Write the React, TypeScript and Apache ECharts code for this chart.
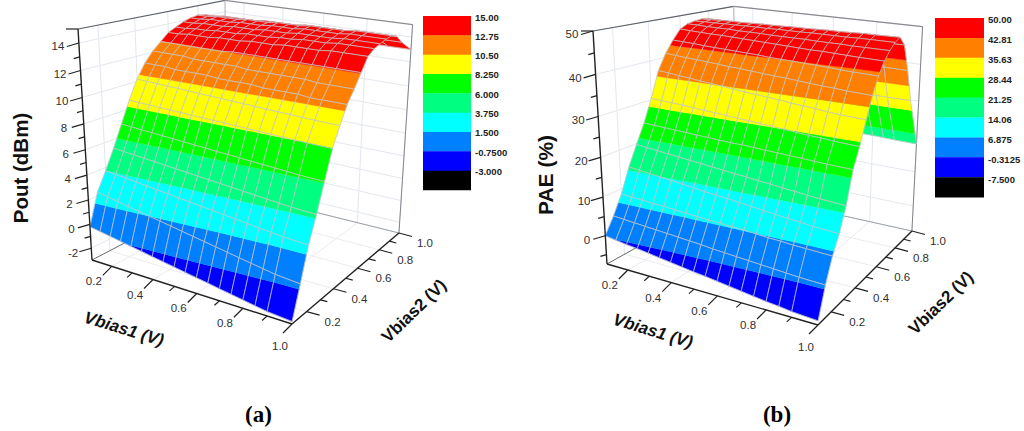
import React, { useEffect, useRef } from "react";
import * as echarts from "echarts";

const gridBias1 = [0.1,0.15,0.2,0.25,0.3,0.35,0.4,0.45,0.5,0.55,0.6,0.65,0.7,0.75,0.8,0.85,0.9,1.0];
const gridBias2 = [0.1,0.15,0.2,0.25,0.3,0.35,0.4,0.45,0.5,0.55,0.6,0.65,0.7,0.75,0.8,0.85,0.9,1.0];
const majorBias = [0.2,0.4,0.6,0.8,1.0];
const minorBias = [0.3,0.5,0.7,0.9];

const poutMajor = [-2,0,2,4,6,8,10,12,14];
const poutMinor = [-1,1,3,5,7,9,11,13];
const paeMajor = [0,10,20,30,40,50];
const paeMinor = [-5,5,15,25,35,45];

const bandColors = ["#000000","#0000ff","#0080ff","#00ffff","#00ff80","#00ff00","#ffff00","#ff8000","#ff0000"];
const poutLevels = [-3,-0.75,1.5,3.75,6,8.25,10.5,12.75,15];
const paeLevels = [-7.5,-0.3125,6.875,14.06,21.25,28.44,35.63,42.81,50];
const poutLegend = ["15.00","12.75","10.50","8.250","6.000","3.750","1.500","-0.7500","-3.000"];
const paeLegend = ["50.00","42.81","35.63","28.44","21.25","14.06","6.875","-0.3125","-7.500"];

const poutRows = [
[-0.2,-0.35,-0.5,-0.66,-0.81,-0.96,-1.12,-1.27,-1.42,-1.58,-1.73,-1.88,-2.04,-2.19,-2.34,-2.5,-2.65,-2.8],
[2.3,2.14,1.98,1.82,1.66,1.5,1.35,1.19,1.03,0.87,0.71,0.55,0.39,0.23,0.07,-0.08,-0.24,-0.4],
[3.75,3.65,3.56,3.46,3.36,3.27,3.17,3.07,2.97,2.88,2.78,2.68,2.59,2.49,2.39,2.3,2.2,2.1],
[5.3,5.22,5.15,5.07,5.0,4.92,4.84,4.77,4.69,4.61,4.54,4.46,4.38,4.31,4.23,4.15,4.08,4.0],
[7,6.95,6.89,6.84,6.79,6.74,6.68,6.63,6.58,6.52,6.47,6.42,6.36,6.31,6.26,6.21,6.15,6.1],
[8.7,8.67,8.64,8.61,8.58,8.55,8.52,8.49,8.46,8.44,8.41,8.38,8.35,8.32,8.29,8.26,8.23,8.2],
[10.2,10.16,10.13,10.09,10.06,10.02,9.99,9.95,9.92,9.88,9.85,9.81,9.78,9.74,9.71,9.67,9.64,9.6],
[11.3,11.3,11.3,11.2,11.2,11.2,11.2,11.1,11.1,11.1,11.1,11.0,11.0,11.0,11.0,10.9,10.9,10.9],
[12.1,12.1,12.1,12.1,12.0,12.0,12.0,12.0,12.0,11.9,11.9,11.9,11.9,11.9,11.9,11.8,11.8,11.8],
[12.7,12.7,12.7,12.7,12.7,12.7,12.7,12.8,12.8,12.8,12.8,12.8,12.8,12.8,12.8,12.8,12.8,12.8],
[13.3,13.3,13.4,13.4,13.4,13.5,13.5,13.5,13.6,13.6,13.6,13.7,13.7,13.7,13.7,13.8,13.8,13.8],
[13.6,13.6,13.7,13.7,13.8,13.8,13.8,13.9,13.9,13.9,14.0,14.0,14.1,14.1,14.1,14.2,14.2,14.2],
[13.9,13.9,14.0,14.0,14.0,14.1,14.1,14.1,14.2,14.2,14.2,14.3,14.3,14.3,14.3,14.4,14.4,14.4],
[14.1,14.1,14.2,14.2,14.2,14.3,14.3,14.3,14.4,14.4,14.4,14.5,14.5,14.5,14.5,14.6,14.6,14.6],
[14.2,14.2,14.3,14.3,14.3,14.4,14.4,14.4,14.5,14.5,14.5,14.6,14.6,14.6,14.6,14.7,14.7,14.7],
[14.1,14.1,14.2,14.2,14.2,14.2,14.3,14.3,14.3,14.3,14.4,14.4,14.4,14.4,14.4,14.5,14.5,14.5],
[13.7,13.7,13.7,13.7,13.8,13.8,13.8,13.8,13.8,13.8,13.8,13.9,13.9,13.9,13.9,13.9,13.9,13.9],
[12.9,12.9,12.9,12.9,12.9,12.9,12.9,12.9,12.9,13.0,13.0,13.0,13.0,13.0,13.0,13.0,13.0,13.0],
];

const paeRows = [
[0,-0.4,-0.8,-1.1,-1.5,-1.9,-2.3,-2.7,-3.1,-3.4,-3.8,-4.2,-4.6,-5.0,-5.4,-5.7,-6.1,-6.5],
[4,3.8,3.6,3.4,3.2,3,2.8,2.6,2.4,2.1,1.9,1.7,1.5,1.3,1.1,0.9,0.7,0.5],
[8.7,8.5,8.4,8.2,8.1,7.9,7.7,7.6,7.4,7.3,7.1,7,6.8,6.6,6.5,6.3,6.2,6],
[14.8,14.5,14.2,14,13.7,13.4,13.1,12.8,12.5,12.3,12,11.7,11.4,11.1,10.8,10.6,10.3,10],
[19.8,19.5,19.3,19,18.8,18.5,18.3,18,17.8,17.5,17.3,17,16.8,16.5,16.3,16,15.8,15.5],
[24.6,24.5,24.4,24.3,24.2,24.1,24,23.9,23.8,23.8,23.7,23.6,23.5,23.4,23.3,23.2,23.1,23],
[30.4,30.2,30.1,30,29.8,29.6,29.5,29.3,29.1,29,28.8,28.6,28.4,28.2,28,27.9,27.7,27.5],
[37,36.8,36.5,36.3,36,35.8,35.5,35.3,35,34.8,34.6,34.4,34.1,33.9,33.7,33.4,33.2,33],
[41,40.8,40.6,40.5,40.3,40.1,39.9,39.8,39.6,39.4,39.2,39.1,38.9,38.7,38.5,38.4,38.2,38],
[44,43.9,43.8,43.6,43.5,43.4,43.3,43.2,43.1,42.9,42.8,42.7,42.6,42.5,42.4,42.2,42.1,42],
[46.5,46.4,46.3,46.2,46.2,46.1,46,45.9,45.8,45.7,45.6,45.5,45.4,45.4,45.3,45.2,45.1,45],
[47.5,47.5,47.4,47.4,47.4,47.3,47.3,47.3,47.2,47.2,47.2,47.2,47.1,47.1,47.1,47,47,47],
[47.9,48,48,48.1,48.1,48.2,48.2,48.2,48.3,48.3,48.3,48.4,48.4,48.4,48.4,48.5,48.5,48.5],
[48.1,48.2,48.3,48.4,48.4,48.5,48.6,48.6,48.7,48.8,48.8,48.9,49,49,49.1,49.2,49.2,49.3],
[47.8,47.8,47.7,47.7,47.6,47.6,47.5,47.5,47.4,47.4,47.3,47.3,47.2,47.2,47.1,47.1,47,47],
[41,40.9,40.9,40.8,40.8,40.7,40.6,40.6,40.5,40.5,40.4,40.4,40.3,40.2,40.2,40.1,40.1,40],
[31.8,31.8,31.7,31.7,31.7,31.7,31.7,31.6,31.6,31.6,31.6,31.6,31.5,31.5,31.5,31.5,31.5,31.5],
[19,18.9,18.9,18.8,18.8,18.7,18.7,18.6,18.6,18.5,18.5,18.4,18.4,18.3,18.3,18.2,18.1,18],
];

type Pt = [number, number];
const BIAS_MIN = 0.1, BIAS_MAX = 1.0;
const toUnit = (b: number) => (b - BIAS_MIN) / (BIAS_MAX - BIAS_MIN);

function makeProjector(O: Pt, Pu: Pt, Pv: Pt, Pw: Pt, a: number, b: number, c: number) {
  const A = [(1 + a) * Pu[0] - O[0], (1 + a) * Pu[1] - O[1]];
  const B = [(1 + b) * Pv[0] - O[0], (1 + b) * Pv[1] - O[1]];
  const C = [(1 + c) * Pw[0] - O[0], (1 + c) * Pw[1] - O[1]];
  return (u: number, v: number, w: number): Pt => {
    const h = 1 + a * u + b * v + c * w;
    return [
      (O[0] + u * A[0] + v * B[0] + w * C[0]) / h,
      (O[1] + u * A[1] + v * B[1] + w * C[1]) / h,
    ];
  };
}

const panels = [
  {
    rows: poutRows, levels: poutLevels, legend: poutLegend, major: poutMajor, minor: poutMinor,
    project: makeProjector([92, 260], [292, 324], [226, 190], [78, 29], -0.1214, 0.2315, -0.0872),
    legendBox: { x: 423, y: 16, w: 48, h: 19.33, labelX: 475, labelY: 17 }, legendStep: 19.3,
    zTitle: { text: "Pout (dBm)", x: 20, y: 168, size: 20.5 },
    t1: { x: 124, y: 329, rot: -17 }, t2: { x: 414, y: 311, rot: 44 },
    caption: { text: "(a)", x: 258.5, y: 414 },
  },
  {
    rows: paeRows, levels: paeLevels, legend: paeLegend, major: paeMajor, minor: paeMinor,
    project: makeProjector([607, 264], [818, 325], [736, 192], [593, 31], -0.1238, 0.2655, -0.0794),
    legendBox: { x: 935, y: 18, w: 49, h: 19.9, labelX: 988, labelY: 19 }, legendStep: 20,
    zTitle: { text: "PAE (%)", x: 545, y: 175, size: 21 },
    t1: { x: 653, y: 331, rot: -17 }, t2: { x: 941, y: 303, rot: 44 },
    caption: { text: "(b)", x: 777, y: 414 },
  },
];

type P3 = [number, number, number];
function clipBand(poly: P3[], lo: number, hi: number): P3[] {
  const clip = (pts: P3[], keep: (z: number) => boolean, lim: number) => {
    const out: P3[] = [];
    for (let i = 0; i < pts.length; i++) {
      const p = pts[i], q = pts[(i + 1) % pts.length];
      const kp = keep(p[2]), kq = keep(q[2]);
      if (kp) out.push(p);
      if (kp !== kq) {
        const t = (lim - p[2]) / (q[2] - p[2]);
        out.push([p[0] + t * (q[0] - p[0]), p[1] + t * (q[1] - p[1]), lim]);
      }
    }
    return out;
  };
  const a = clip(poly, (z) => z >= lo, lo);
  if (!a.length) return a;
  return clip(a, (z) => z <= hi, hi);
}

function buildOption() {
  const series: any[] = [];
  panels.forEach((p) => {
    const zMin = p.levels[0], zMax = p.levels[p.levels.length - 1];
    const toW = (z: number) => (z - zMin) / (zMax - zMin);

    // walls, floor and frame
    series.push({
      type: "custom", silent: true, data: [[0, 0]], z: 1,
      renderItem: (_: any, api: any) => {
        const P = (u: number, v: number, w: number) => api.coord(p.project(u, v, w));
        const seg = (a: number[], b: number[], stroke: string, lineWidth = 1) => ({
          type: "line",
          shape: { x1: a[0], y1: a[1], x2: b[0], y2: b[1] },
          style: { stroke, lineWidth },
        });
        const ch: any[] = [];
        const faint = "#e3e7ee";
        p.major.forEach((z: number) => {
          const w = toW(z);
          ch.push(seg(P(0, 0, w), P(0, 1, w), faint));
          ch.push(seg(P(0, 1, w), P(1, 1, w), faint));
        });
        majorBias.forEach((b) => {
          const t = toUnit(b);
          ch.push(seg(P(t, 1, 0), P(t, 1, 1), faint));
          ch.push(seg(P(0, t, 0), P(0, t, 1), faint));
          ch.push(seg(P(t, 0, 0), P(t, 1, 0), "#eee8ee"));
          ch.push(seg(P(0, t, 0), P(1, t, 0), "#e8ecf2"));
        });
        ch.push(seg(P(0, 0, 1), P(0, 1, 1), "#5a6068", 1.2));
        ch.push(seg(P(0, 1, 1), P(1, 1, 1), "#8a8a90", 1.2));
        ch.push(seg(P(1, 1, 1), P(1, 1, 0), "#80868c", 1));
        ch.push(seg(P(0, 1, 1), P(0, 1, 0), "#b4b8bc", 1));
        ch.push(seg(P(0, 1, 0), P(1, 1, 0), "#9aa0a4", 1));
        ch.push(seg(P(0, 0, 0), P(0, 1, 0), "#6a6a6a", 1));
        return { type: "group", children: ch };
      },
    });

    // surface cells, far rows first
    const cells: number[][] = [];
    for (let j = p.rows.length - 2; j >= 0; j--) {
      for (let i = 0; i < gridBias1.length - 1; i++) cells.push([i, j]);
    }
    const uOf = gridBias1.map(toUnit);
    const vOf = gridBias2.map(toUnit);
    series.push({
      type: "custom", silent: true, data: cells, z: 2,
      renderItem: (_: any, api: any) => {
        const i = api.value(0), j = api.value(1);
        const quad: P3[] = [
          [uOf[i], vOf[j], p.rows[j][i]],
          [uOf[i + 1], vOf[j], p.rows[j][i + 1]],
          [uOf[i + 1], vOf[j + 1], p.rows[j + 1][i + 1]],
          [uOf[i], vOf[j + 1], p.rows[j + 1][i]],
        ];
        const toPx = (q: P3) => api.coord(p.project(q[0], q[1], toW(q[2])));
        const ch: any[] = [];
        for (let b = 0; b + 1 < p.levels.length; b++) {
          const poly = clipBand(quad, p.levels[b], p.levels[b + 1]);
          if (poly.length >= 3) {
            ch.push({
              type: "polygon",
              shape: { points: poly.map(toPx) },
              style: { fill: bandColors[b + 1], stroke: bandColors[b + 1], lineWidth: 0.3 },
            });
          }
        }
        ch.push({
          type: "polygon",
          shape: { points: quad.map(toPx) },
          style: { fill: "none", stroke: "rgba(196,196,200,0.85)", lineWidth: 0.9 },
        });
        return { type: "group", children: ch };
      },
    });

    // axes, ticks, labels, legend
    series.push({
      type: "custom", silent: true, data: [[0, 0]], z: 3,
      renderItem: (_: any, api: any) => {
        const P = (u: number, v: number, w: number) => api.coord(p.project(u, v, w));
        const ch: any[] = [];
        const ax = "#222222";
        const seg = (a: number[], b: number[], lw = 1.4) => ({
          type: "line",
          shape: { x1: a[0], y1: a[1], x2: b[0], y2: b[1] },
          style: { stroke: ax, lineWidth: lw },
        });
        const txt = (text: string, x: number, y: number, font: any, extra: any = {}) => ({
          type: "text",
          x, y,
          ...extra,
          style: { text, x: 0, y: 0, align: "center", verticalAlign: "middle", fill: "#303030", fontFamily: "Liberation Sans", ...font },
        });
        ch.push(seg(P(0, 0, 0), P(0, 0, 1)));
        ch.push(seg(P(0, 0, 0), P(1, 0, 0)));
        ch.push(seg(P(1, 0, 0), P(1, 1, 0)));
        const tick = (a: number[], dx: number, dy: number) => seg(a, [a[0] + dx, a[1] + dy], 1.2);
        p.major.forEach((z: number) => {
          const w = toW(z);
          const a = P(0, 0, w);
          ch.push(tick(a, -12, 3.5));
          ch.push(txt(String(z), a[0] - 21 + (1 - w) * 3, a[1] + 3 + (1 - w) * 2, { fontSize: 11.5 }));
        });
        ch.push(tick(P(0, 0, 1), -12, 0));
        p.minor.forEach((z: number) => ch.push(tick(P(0, 0, toW(z)), -6, 1.8)));
        majorBias.forEach((b) => {
          const t = toUnit(b);
          const a = P(t, 0, 0);
          ch.push(tick(a, -9, 9));
          ch.push(txt(b.toFixed(1), a[0] - (b === 1 ? 12 : 18), a[1] + (b === 1 ? 22 : 15), { fontSize: 11.5 }));
          const c = P(1, t, 0);
          ch.push(tick(c, 13, 3.5));
          ch.push(txt(b.toFixed(1), c[0] + 26, c[1] + 10, { fontSize: 11.5 }));
        });
        minorBias.forEach((b) => {
          const t = toUnit(b);
          ch.push(tick(P(t, 0, 0), -5, 4.5));
          ch.push(tick(P(1, t, 0), 7, 1.8));
        });
        const at = (x: number, y: number) => api.coord([x, y]);
        const zt = at(p.zTitle.x, p.zTitle.y);
        ch.push(txt(p.zTitle.text, zt[0], zt[1], { fontSize: p.zTitle.size, fontWeight: "bold", fill: "#111" }, { rotation: Math.PI / 2 }));
        const a1 = at(p.t1.x, p.t1.y);
        ch.push(txt("Vbias1 (V)", a1[0], a1[1], { fontSize: 17, fontWeight: "bold", fontStyle: "italic", fill: "#111" }, { rotation: (p.t1.rot * Math.PI) / 180 }));
        const a2 = at(p.t2.x, p.t2.y);
        ch.push(txt("Vbias2 (V)", a2[0], a2[1], { fontSize: 17, fontWeight: "bold", fill: "#111" }, { rotation: (p.t2.rot * Math.PI) / 180 }));
        const lb = p.legendBox;
        for (let k = 0; k < bandColors.length; k++) {
          const tl = at(lb.x, lb.y + k * lb.h);
          ch.push({
            type: "rect",
            shape: { x: tl[0], y: tl[1], width: lb.w, height: lb.h + 0.3 },
            style: { fill: bandColors[bandColors.length - 1 - k] },
          });
          const lp = at(lb.labelX, lb.labelY + k * p.legendStep);
          ch.push({
            type: "text", x: lp[0], y: lp[1],
            style: { text: p.legend[k], x: 0, y: 0, align: "left", verticalAlign: "middle", fill: "#222", fontFamily: "Liberation Sans", fontSize: 9.5, fontWeight: "bold" },
          });
        }
        const cap = at(p.caption.x, p.caption.y);
        ch.push(txt(p.caption.text, cap[0], cap[1], { fontFamily: "Liberation Serif", fontSize: 23, fontWeight: "bold", fill: "#000" }));
        return { type: "group", children: ch };
      },
    });
  });

  return {
    animation: false,
    backgroundColor: "#ffffff",
    grid: { left: 0, top: 0, width: 1024, height: 431 },
    xAxis: { type: "value", min: 0, max: 1024, show: false },
    yAxis: { type: "value", min: 0, max: 431, inverse: true, show: false },
    series,
  };
}

export default function App() {
  const ref = useRef<HTMLDivElement>(null);
  useEffect(() => {
    const chart = echarts.init(ref.current!, undefined, { renderer: "svg" });
    chart.setOption(buildOption() as any);
    return () => chart.dispose();
  }, []);
  return <div ref={ref} style={{ position: "fixed", left: 0, top: 0, width: 1024, height: 431 }} />;
}
